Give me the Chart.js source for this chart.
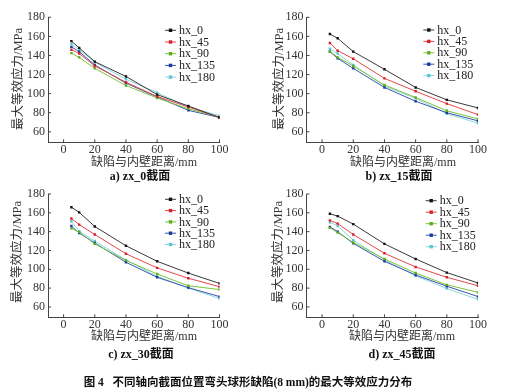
<!DOCTYPE html>
<html><head><meta charset="utf-8">
<script src="https://cdn.jsdelivr.net/npm/chart.js@4.4.0/dist/chart.umd.min.js"></script>
<style>
body{margin:0;background:#fff;width:507px;height:392px;position:relative;overflow:hidden;font-family:"Liberation Serif","Noto Sans CJK SC",serif;}
canvas{position:absolute;}
.t{position:absolute;white-space:nowrap;color:#333;transform:translate(-50%,-50%);font-size:12px;line-height:1;}
.yt{transform:translate(-50%,-50%) rotate(-90deg);font-size:12.5px;}
.cap{font-weight:bold;color:#111;}
.fig{font-weight:bold;color:#111;font-size:11.5px;}
</style></head><body>
<canvas id="ca" width="250" height="180" style="left:0;top:0"></canvas>
<canvas id="cb" width="257" height="180" style="left:250px;top:0"></canvas>
<canvas id="cc" width="250" height="180" style="left:0;top:180px"></canvas>
<canvas id="cd" width="257" height="180" style="left:250px;top:180px"></canvas>

<div class="t yt" style="left:18px;top:79px">最大等效应力/MPa</div>
<div class="t yt" style="left:279px;top:79px">最大等效应力/MPa</div>
<div class="t yt" style="left:17px;top:252px">最大等效应力/MPa</div>
<div class="t yt" style="left:278px;top:252px">最大等效应力/MPa</div>

<div class="t" style="left:144px;top:162px">缺陷与内壁距离/mm</div>
<div class="t" style="left:403px;top:162px">缺陷与内壁距离/mm</div>
<div class="t" style="left:144px;top:336px">缺陷与内壁距离/mm</div>
<div class="t" style="left:402px;top:336px">缺陷与内壁距离/mm</div>

<div class="t cap" style="left:140px;top:176px">a) zx_0截面</div>
<div class="t cap" style="left:399px;top:176px">b) zx_15截面</div>
<div class="t cap" style="left:141px;top:354px">c) zx_30截面</div>
<div class="t cap" style="left:402px;top:354px">d) zx_45截面</div>

<div class="t fig" style="left:248px;top:383px">图 4&nbsp;&nbsp;&nbsp;不同轴向截面位置弯头球形缺陷(8 mm)的最大等效应力分布</div>

<script>
// ---- data ----
const distances = [5, 10, 20, 40, 60, 80, 100];
const seriesNames = ['hx_0', 'hx_45', 'hx_90', 'hx_135', 'hx_180'];
const xTicks = [0, 20, 40, 60, 80, 100];
const yTicks = [60, 80, 100, 120, 140, 160, 180];

// a) zx_0
const zx0_hx0   = [155, 148, 133.5, 118, 99, 87, 75];
const zx0_hx45  = [146, 142, 129, 112, 97, 86, 75];
const zx0_hx90  = [142.5, 138, 126.5, 108.5, 95.5, 84, 75.5];
const zx0_hx135 = [149, 144, 130, 111, 96.5, 82.5, 75];
const zx0_hx180 = [152, 146, 133, 115, 101, 86, 77];
// b) zx_15
const zx15_hx0   = [162.5, 158, 144, 125.5, 106.5, 93.5, 85];
const zx15_hx45  = [153, 145, 136.5, 116, 102.5, 89.5, 78];
const zx15_hx90  = [144.5, 138, 129, 109, 96, 82, 73.5];
const zx15_hx135 = [144, 137, 126.5, 106.5, 92, 80, 71.5];
const zx15_hx180 = [147, 142, 130, 108, 95, 79, 69];
// c) zx_30
const zx30_hx0   = [166, 160.5, 145.5, 125, 108.5, 96, 85];
const zx30_hx45  = [154, 147.5, 137, 116.5, 101.5, 90.5, 81.5];
const zx30_hx90  = [143.5, 139.5, 127, 109.5, 95, 82.5, 78.5];
const zx30_hx135 = [146, 138.5, 128, 107.5, 91.5, 80.5, 71];
const zx30_hx180 = [151, 140.5, 130, 110, 92.5, 80, 69];
// d) zx_45
const zx45_hx0   = [159, 156.5, 148, 127, 111, 96.5, 85.5];
const zx45_hx45  = [152, 148.5, 137, 117, 102.5, 91.5, 82.5];
const zx45_hx90  = [144, 139, 128.5, 111, 96, 83.5, 75.5];
const zx45_hx135 = [145, 140, 127.5, 108.5, 94, 82, 71];
const zx45_hx180 = [150, 146, 131, 110, 93, 79.5, 68];

// ---- styles ----
const lineColors = ['#3a3a3a', '#e5484d', '#7cc43e', '#3a56b0', '#8fd6e0'];
const markColors = ['#111111', '#d8202a', '#5cae1e', '#1a3a9a', '#5cc4d2'];

const innerTicks = {
  id: 'innerTicks',
  afterDraw(chart) {
    const {ctx, chartArea: a, scales: {x, y}} = chart;
    ctx.save();
    ctx.strokeStyle = '#444';
    ctx.lineWidth = 1;
    ctx.beginPath();
    x.ticks.forEach(t => { const p = x.getPixelForValue(t.value); ctx.moveTo(p, a.bottom); ctx.lineTo(p, a.bottom - 3); });
    y.ticks.forEach(t => { const p = y.getPixelForValue(t.value); ctx.moveTo(a.left, p); ctx.lineTo(a.left + 3, p); });
    ctx.stroke();
    ctx.restore();
  }
};

const inLegend = {
  id: 'inLegend',
  afterDatasetsDraw(chart, args, opts) {
    const {ctx, chartArea: a} = chart;
    ctx.save();
    ctx.font = '12px "Liberation Serif"';
    ctx.textBaseline = 'middle';
    ctx.textAlign = 'left';
    chart.data.datasets.forEach((ds, i) => {
      const y = a.top + opts.dy + i * opts.gap;
      const x0 = a.right - opts.dx;
      ctx.strokeStyle = ds.borderColor;
      ctx.lineWidth = 1;
      ctx.beginPath(); ctx.moveTo(x0, y); ctx.lineTo(x0 + 11, y); ctx.stroke();
      ctx.fillStyle = ds.pointBackgroundColor;
      ctx.fillRect(x0 + 5.5 - 1.7, y - 1.7, 3.4, 3.4);
      ctx.fillStyle = '#222';
      ctx.fillText(ds.label, x0 + 14, y + 0.5);
    });
    ctx.restore();
  }
};

function makeChart(id, values, lay) {
  new Chart(document.getElementById(id), {
    type: 'line',
    data: {
      datasets: seriesNames.map((n, i) => ({
        label: n,
        data: distances.map((x, j) => ({x: x, y: values[i][j]})),
        borderColor: lineColors[i],
        backgroundColor: markColors[i],
        pointBackgroundColor: markColors[i],
        pointBorderColor: markColors[i],
        pointStyle: 'rect',
        pointRadius: 1.7,
        pointBorderWidth: 0,
        borderWidth: 1,
        tension: 0,
        fill: false
      }))
    },
    options: {
      animation: false,
      responsive: false,
      devicePixelRatio: 1,
      layout: {padding: {left: 0, top: lay.top, right: lay.right, bottom: 0}},
      plugins: {
        legend: {display: false},
        tooltip: {enabled: false},
        inLegend: {dx: lay.ldx, dy: lay.ldy, gap: lay.lgap}
      },
      scales: {
        x: {
          type: 'linear', min: -10, max: 100,
          afterBuildTicks: s => { s.ticks = xTicks.map(v => ({value: v})); },
          afterFit: s => { s.height = lay.xh; },
          grid: {display: false, drawTicks: false},
          border: {display: true, color: '#444', width: 1},
          ticks: {padding: 0, color: '#333', font: {family: 'Liberation Serif', size: 12}}
        },
        y: {
          type: 'linear', min: 49, max: 180,
          afterBuildTicks: s => { s.ticks = yTicks.map(v => ({value: v})); },
          afterFit: s => { s.width = lay.yw; },
          grid: {display: false, drawTicks: false},
          border: {display: true, color: '#444', width: 1},
          ticks: {padding: 3, color: '#333', font: {family: 'Liberation Serif', size: 12}}
        }
      }
    },
    plugins: [innerTicks, inLegend]
  });
}

makeChart('ca', [zx0_hx0, zx0_hx45, zx0_hx90, zx0_hx135, zx0_hx180],
  {top: 17.3, right: 30.5, xh: 37.7, yw: 48, ldx: 54.5, ldy: 13, lgap: 11.7});
makeChart('cb', [zx15_hx0, zx15_hx45, zx15_hx90, zx15_hx135, zx15_hx180],
  {top: 17.3, right: 29, xh: 37.7, yw: 56.5, ldx: 54.7, ldy: 12.7, lgap: 11.4});
makeChart('cc', [zx30_hx0, zx30_hx45, zx30_hx90, zx30_hx135, zx30_hx180],
  {top: 14, right: 30.5, xh: 42.7, yw: 48, ldx: 54.5, ldy: 5.3, lgap: 11.3});
makeChart('cd', [zx45_hx0, zx45_hx45, zx45_hx90, zx45_hx135, zx45_hx180],
  {top: 14, right: 29, xh: 42.7, yw: 56.5, ldx: 52.3, ldy: 6.7, lgap: 11.5});
</script>
</body></html>
